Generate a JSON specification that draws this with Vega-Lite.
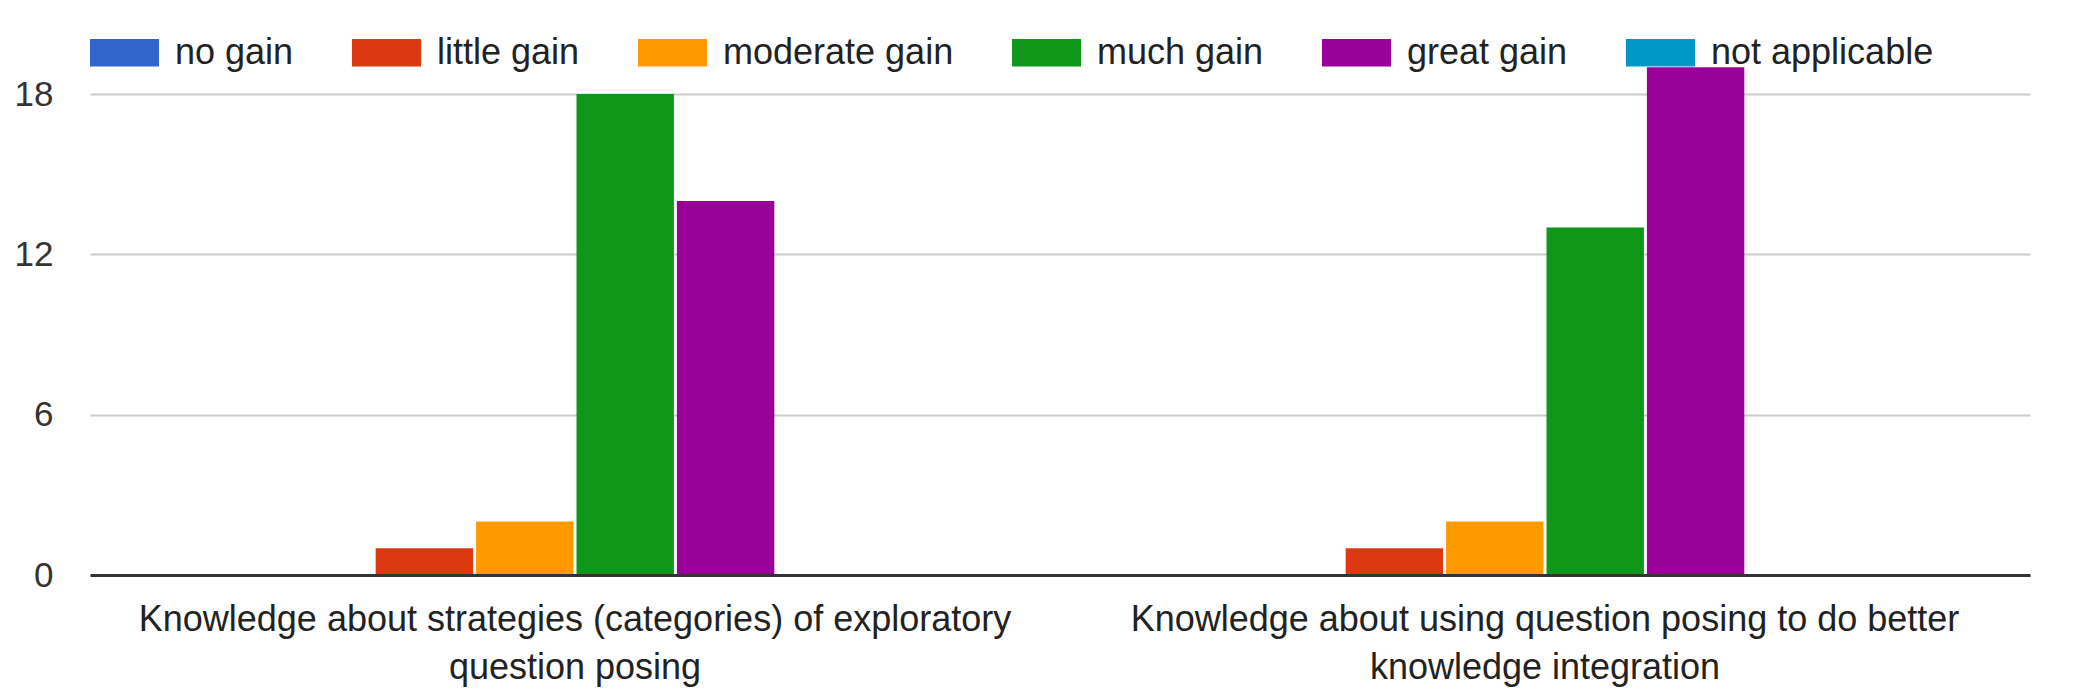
{
  "$schema": "https://vega.github.io/schema/vega-lite/v6.json",
  "width": 1940,
  "height": 481,
  "autosize": {"type": "none"},
  "padding": {"left": 90, "top": 94, "right": 44, "bottom": 123},
  "background": "white",
  "data": {
    "values": [
      {"item": "Knowledge about strategies (categories) of exploratory question posing", "rating": "no gain", "count": 0},
      {"item": "Knowledge about strategies (categories) of exploratory question posing", "rating": "little gain", "count": 1},
      {"item": "Knowledge about strategies (categories) of exploratory question posing", "rating": "moderate gain", "count": 2},
      {"item": "Knowledge about strategies (categories) of exploratory question posing", "rating": "much gain", "count": 18},
      {"item": "Knowledge about strategies (categories) of exploratory question posing", "rating": "great gain", "count": 14},
      {"item": "Knowledge about strategies (categories) of exploratory question posing", "rating": "not applicable", "count": 0},
      {"item": "Knowledge about using question posing to do better knowledge integration", "rating": "no gain", "count": 0},
      {"item": "Knowledge about using question posing to do better knowledge integration", "rating": "little gain", "count": 1},
      {"item": "Knowledge about using question posing to do better knowledge integration", "rating": "moderate gain", "count": 2},
      {"item": "Knowledge about using question posing to do better knowledge integration", "rating": "much gain", "count": 13},
      {"item": "Knowledge about using question posing to do better knowledge integration", "rating": "great gain", "count": 19},
      {"item": "Knowledge about using question posing to do better knowledge integration", "rating": "not applicable", "count": 0}
    ]
  },
  "mark": {"type": "bar", "clip": false},
  "encoding": {
    "x": {
      "field": "item",
      "type": "nominal",
      "sort": null,
      "scale": {"paddingInner": 0.382, "paddingOuter": 0.191},
      "axis": {
        "title": null,
        "domainColor": "#333333",
        "domainWidth": 3,
        "ticks": false,
        "labelAngle": 0,
        "labelFontSize": 36,
        "labelColor": "#222222",
        "labelPadding": 27,
        "labelLineHeight": 48,
        "labelLimit": 0,
        "labelBaseline": "top",
        "zindex": 1,
        "labelExpr": "datum.value == 'Knowledge about strategies (categories) of exploratory question posing' ? ['Knowledge about strategies (categories) of exploratory', 'question posing'] : ['Knowledge about using question posing to do better', 'knowledge integration']"
      }
    },
    "xOffset": {
      "field": "rating",
      "type": "nominal",
      "sort": ["no gain", "little gain", "moderate gain", "much gain", "great gain", "not applicable"],
      "scale": {"paddingInner": 0.03, "paddingOuter": 0}
    },
    "y": {
      "field": "count",
      "type": "quantitative",
      "scale": {"domain": [0, 18], "nice": false},
      "axis": {
        "title": null,
        "domain": false,
        "ticks": false,
        "grid": true,
        "gridColor": "#cccccc",
        "gridWidth": 2,
        "values": [0, 6, 12, 18],
        "labelFontSize": 35,
        "labelColor": "#333333",
        "labelPadding": 37
      }
    },
    "color": {
      "field": "rating",
      "type": "nominal",
      "sort": ["no gain", "little gain", "moderate gain", "much gain", "great gain", "not applicable"],
      "scale": {
        "domain": ["no gain", "little gain", "moderate gain", "much gain", "great gain", "not applicable"],
        "range": ["#3366cc", "#dc3912", "#ff9900", "#109618", "#990099", "#0099c6"]
      },
      "legend": {
        "title": null,
        "orient": "none",
        "legendX": 0,
        "legendY": -76,
        "direction": "horizontal",
        "symbolType": "M-1,-0.4H1V0.4H-1Z",
        "symbolSize": 4761,
        "symbolStrokeWidth": 0,
        "symbolOpacity": 1,
        "labelFontSize": 36,
        "labelOffset": 16,
        "columnPadding": 58,
        "labelColor": "#222222",
        "labelLimit": 0
      }
    }
  },
  "config": {
    "view": {"stroke": null},
    "font": "Liberation Sans"
  }
}
